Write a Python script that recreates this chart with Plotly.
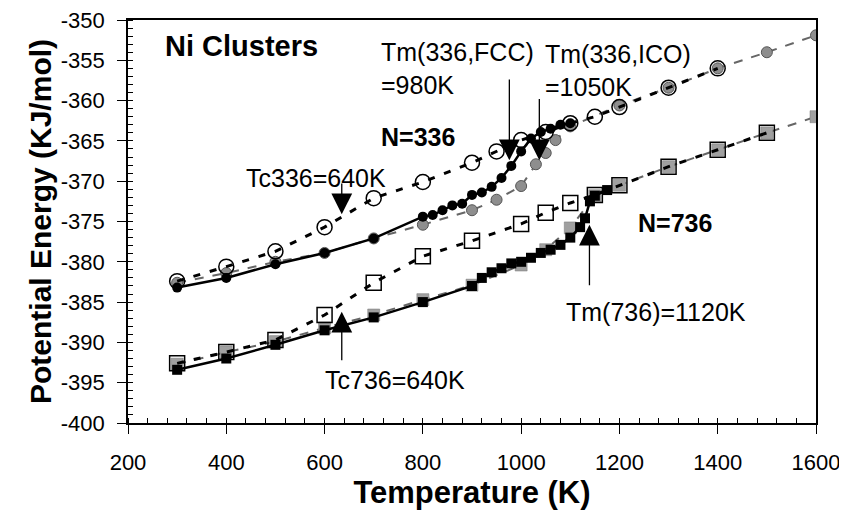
import plotly.graph_objects as go

# N=336 cluster, heating from FCC (black filled circles, solid line)
t336_fcc = [300, 400, 500, 600, 700, 800, 820, 840, 860, 880, 900, 920, 940, 960, 980,
            1000, 1020, 1040, 1060, 1080, 1100]
e336_fcc = [-383.2, -382.0, -380.3, -378.9, -377.1, -374.4, -374.2, -373.6, -373.0, -372.8,
            -371.7, -371.4, -370.7, -369.6, -368.1, -366.3, -364.7, -363.9, -363.5, -363.0, -362.8]

# N=336 cluster, heating from ICO (grey circles, dashed grey line)
t336_ico = [300, 400, 500, 600, 700, 800, 900, 950, 1000, 1030, 1050, 1070, 1100,
            1200, 1300, 1400, 1500, 1600]
e336_ico = [-382.6, -381.4, -380.0, -378.9, -377.1, -375.4, -373.6, -372.3, -370.6, -367.9,
            -366.5, -364.9, -363.2, -360.6, -358.4, -356.0, -354.0, -351.9]

# N=336 cluster, cooling (open circles, dashed black line)
t336_cool = [300, 400, 500, 600, 700, 800, 900, 950, 1000, 1050, 1100, 1150, 1200, 1300, 1400]
e336_cool = [-382.4, -380.6, -378.7, -375.7, -372.1, -370.1, -367.7, -366.3, -364.9, -363.9,
             -362.8, -362.0, -360.8, -358.4, -356.0]

# N=736 cluster, heating (black filled squares, solid line)
t736_fcc = [300, 400, 500, 600, 700, 800, 900, 920, 940, 960, 980, 1000, 1020, 1040, 1060,
            1080, 1100, 1120, 1130, 1140, 1150, 1175]
e736_fcc = [-393.4, -392.0, -390.3, -388.5, -386.9, -385.0, -383.0, -382.0, -381.3, -380.8,
            -380.2, -380.0, -379.5, -378.9, -378.5, -377.9, -377.0, -375.7, -374.6, -372.5,
            -371.8, -371.1]

# N=736 cluster, second heating run (grey squares, dashed grey line)
t736_grey = [300, 400, 500, 600, 700, 800, 900, 1000, 1050, 1100, 1150, 1200, 1300, 1400,
             1500, 1600]
e736_grey = [-392.7, -391.2, -389.9, -388.2, -386.6, -384.7, -382.9, -380.4, -378.5, -375.8,
             -371.8, -370.5, -368.2, -366.1, -364.0, -362.0]

# N=736 cluster, cooling (open squares, dashed black line)
t736_cool = [300, 400, 500, 600, 700, 800, 900, 1000, 1050, 1100, 1150, 1200, 1300, 1400, 1500]
e736_cool = [-392.6, -391.2, -389.7, -386.6, -382.6, -379.3, -377.4, -375.3, -373.9, -372.7,
             -371.7, -370.5, -368.2, -366.1, -364.0]

# tick labels (plain hyphen as in the original)
y_ticks = [-400, -395, -390, -385, -380, -375, -370, -365, -360, -355, -350]
y_ticktext = ["-400", "-395", "-390", "-385", "-380", "-375", "-370", "-365", "-360", "-355", "-350"]

FONT = "Liberation Sans, Arial, sans-serif"
GREY = "#8e8e8e"

fig = go.Figure()

# grey runs
fig.add_trace(go.Scatter(x=t336_ico, y=e336_ico, mode="lines+markers",
                         line=dict(color="#666", width=2, dash="dash"),
                         marker=dict(symbol="circle", size=11, color=GREY,
                                     line=dict(color="#555", width=1))))
fig.add_trace(go.Scatter(x=t736_grey, y=e736_grey, mode="lines+markers",
                         line=dict(color="#666", width=2, dash="dash"),
                         marker=dict(symbol="square", size=12, color="#a0a0a0",
                                     line=dict(color="#777", width=0.5))))

# black heating runs
fig.add_trace(go.Scatter(x=t336_fcc, y=e336_fcc, mode="lines+markers",
                         line=dict(color="black", width=2.5),
                         marker=dict(symbol="circle", size=10, color="black")))
fig.add_trace(go.Scatter(x=t736_fcc, y=e736_fcc, mode="lines+markers",
                         line=dict(color="black", width=2.5),
                         marker=dict(symbol="square", size=10, color="black")))

# open-marker cooling runs
fig.add_trace(go.Scatter(x=t336_cool, y=e336_cool, mode="lines+markers",
                         line=dict(color="black", width=3, dash="7px,10px"),
                         marker=dict(symbol="circle-open", size=15, color="black",
                                     line=dict(width=1.5))))
fig.add_trace(go.Scatter(x=t736_cool, y=e736_cool, mode="lines+markers",
                         line=dict(color="black", width=3, dash="7px,10px"),
                         marker=dict(symbol="square-open", size=15, color="black",
                                     line=dict(width=1.5))))

# labels
labels = [
    ("<b>Ni Clusters</b>", 271, -353.2, 29),
    ("Tm(336,FCC)<br>=980K", 710, -356.0, 25),
    ("Tm(336,ICO)<br>=1050K", 1045, -356.3, 25),
    ("<b>N=336</b>", 710, -364.5, 25),
    ("Tc336=640K", 436, -369.6, 25),
    ("<b>N=736</b>", 1234, -375.2, 25),
    ("Tm(736)=1120K", 1088, -386.2, 25),
    ("Tc736=640K", 596, -394.7, 25),
]
for txt, x, y, size in labels:
    fig.add_annotation(x=x, y=y, text=txt, showarrow=False, xanchor="left", yanchor="middle",
                       align="left", font=dict(family=FONT, size=size, color="black"))

# arrows: (tip x, tip y, tail y)
arrows = [
    (635, -374.1, -370.1),
    (635, -386.2, -392.4),
    (976, -367.4, -357.2),
    (1037, -367.4, -359.6),
    (1139, -375.4, -383.1),
]
for x, y, ay in arrows:
    fig.add_annotation(x=x, y=y, ax=x, ay=ay, axref="x", ayref="y", text="",
                       showarrow=True, arrowhead=2, arrowwidth=1.3, arrowsize=3.2,
                       arrowcolor="black")

fig.update_xaxes(range=[200, 1600], dtick=200, showgrid=False, zeroline=False, automargin=False,
                 showline=True, linecolor="black", linewidth=1.5, mirror=True,
                 ticks="outside", ticklen=9, tickcolor="black", ticklabelstandoff=10,
                 ticklabeloverflow="allow",
                 minor=dict(ticks="inside", dtick=40, ticklen=5, tickcolor="black"),
                 tickfont=dict(family=FONT, size=22, color="black"),
                 title=dict(text="<b>Temperature (K)</b>", standoff=1,
                            font=dict(family=FONT, size=31, color="black")))
fig.update_yaxes(range=[-400, -350], tickvals=y_ticks, ticktext=y_ticktext,
                 showgrid=False, zeroline=False, automargin=False,
                 showline=True, linecolor="black", linewidth=1.5, mirror=True,
                 ticks="outside", ticklen=9, tickcolor="black", ticklabelstandoff=8,
                 ticklabeloverflow="allow",
                 minor=dict(ticks="inside", dtick=1, ticklen=5, tickcolor="black"),
                 tickfont=dict(family=FONT, size=22, color="black"),
                 title=dict(text="<b>Potential Energy (KJ/mol)</b>", standoff=0,
                            font=dict(family=FONT, size=30, color="black")))

# the page body adds an 8px margin, so the figure is 8px smaller to fit the window
fig.update_layout(width=839, height=514, showlegend=False,
                  paper_bgcolor="white", plot_bgcolor="white",
                  margin=dict(l=120, r=31, t=12, b=99))

fig.write_html("out.html")
